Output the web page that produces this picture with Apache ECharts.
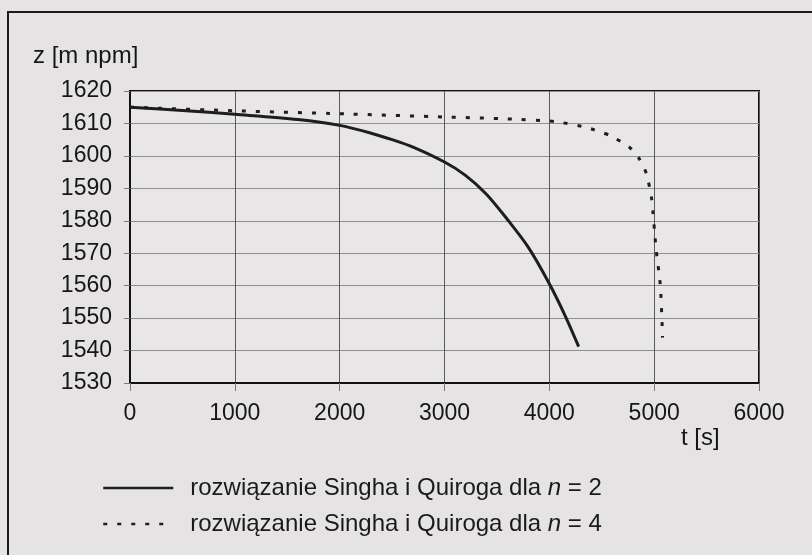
<!DOCTYPE html>
<html>
<head>
<meta charset="utf-8">
<script src="https://cdn.jsdelivr.net/npm/echarts@6/dist/echarts.min.js"></script>
<style>
html,body{margin:0;padding:0;background:#e5e3e3;}
#chart{width:812px;height:555px;}
</style>
</head>
<body>
<div id="chart"></div>
<script>
// time [s] and elevation [m npm] for n = 2 (solid)
var t2 = [0, 500, 1000, 1600, 2000, 2300, 2500, 2700, 3000, 3200, 3400, 3600, 3800, 4000, 4150, 4280];
var z2 = [1615, 1614, 1612.8, 1611.2, 1609.4, 1607, 1605, 1602.7, 1598.1, 1594, 1588.2, 1580.4, 1571.8, 1560.6, 1550.8, 1541.2];
// time [s] and elevation [m npm] for n = 4 (dashed)
var t4 = [0, 1000, 2000, 3000, 3600, 4050, 4350, 4570, 4760, 4860, 4925, 4975, 5017, 5059, 5075, 5080];
var z4 = [1615, 1613.9, 1613, 1612, 1611.4, 1610.6, 1608.8, 1606.4, 1602.8, 1599, 1594.6, 1587, 1571.7, 1560, 1548.6, 1544];
var seriesNames = ['rozwiązanie Singha i Quiroga dla {i|n} = 2', 'rozwiązanie Singha i Quiroga dla {i|n} = 4'];
var xTicks = [0, 1000, 2000, 3000, 4000, 5000, 6000];
var yTicks = [1530, 1540, 1550, 1560, 1570, 1580, 1590, 1600, 1610, 1620];

function pairs(xs, ys) { return xs.map(function (x, i) { return [x, ys[i]]; }); }

var font = 'Liberation Sans, Arial, sans-serif';
var chart = echarts.init(document.getElementById('chart'));
chart.setOption({
  backgroundColor: '#e5e3e3',
  animation: false,
  grid: {
    left: 130, right: 53, top: 91, bottom: 172,
    show: true, borderColor: '#111', borderWidth: 2, backgroundColor: '#e8e6e6'
  },
  xAxis: {
    type: 'value', min: xTicks[0], max: xTicks[xTicks.length - 1], interval: 1000,
    axisLine: { show: true, onZero: false, lineStyle: { color: '#111', width: 2 } },
    axisTick: { show: true, length: 8, lineStyle: { color: '#777', width: 1 } },
    axisLabel: { margin: 19, color: '#161616', fontSize: 23, fontFamily: font,
      formatter: function (v) { return String(v); } },
    splitLine: { show: true, lineStyle: { color: '#5a5a5a', width: 1 } }
  },
  yAxis: {
    type: 'value', min: yTicks[0], max: yTicks[yTicks.length - 1], interval: 10,
    axisLine: { show: true, lineStyle: { color: '#111', width: 2 } },
    axisTick: { show: true, length: 6, lineStyle: { color: '#777', width: 1 } },
    axisLabel: { margin: 18, color: '#161616', fontSize: 23, fontFamily: font,
      formatter: function (v) { return String(v); } },
    splitLine: { show: true, lineStyle: { color: '#8f8f8f', width: 1 } }
  },
  legend: {
    orient: 'vertical', left: 97, top: 470,
    itemWidth: 70, itemHeight: 14, itemGap: 10,
    itemStyle: { opacity: 0 },
    lineStyle: { width: 2.5 },
    textStyle: {
      fontSize: 24, fontFamily: font, color: '#1a1a1a', lineHeight: 26,
      padding: [0, 0, 0, 12],
      rich: { i: { fontStyle: 'italic', fontSize: 24, fontFamily: font, color: '#1a1a1a' } }
    },
    data: [seriesNames[0], seriesNames[1]]
  },
  graphic: [
    { type: 'rect', shape: { x: 8, y: 12, width: 900, height: 700 },
      style: { fill: 'none', stroke: '#1a1a1a', lineWidth: 2 }, z: 10 },
    { type: 'text', left: 33, top: 44,
      style: { text: 'z [m npm]', font: '24px ' + font, fill: '#161616' } },
    { type: 'text', left: 681, top: 426,
      style: { text: 't [s]', font: '24px ' + font, fill: '#161616' } }
  ],
  series: [
    {
      name: seriesNames[0], type: 'line', data: pairs(t2, z2), symbol: 'none', smooth: 0.3,
      lineStyle: { color: '#1e1e1e', width: 3, type: 'solid' }, itemStyle: { color: '#1e1e1e' }
    },
    {
      name: seriesNames[1], type: 'line', data: pairs(t4, z4), symbol: 'none', smooth: 0.2,
      lineStyle: { color: '#1e1e1e', width: 3, type: [4, 10] }, itemStyle: { color: '#1e1e1e' }
    }
  ]
});
</script>
</body>
</html>
